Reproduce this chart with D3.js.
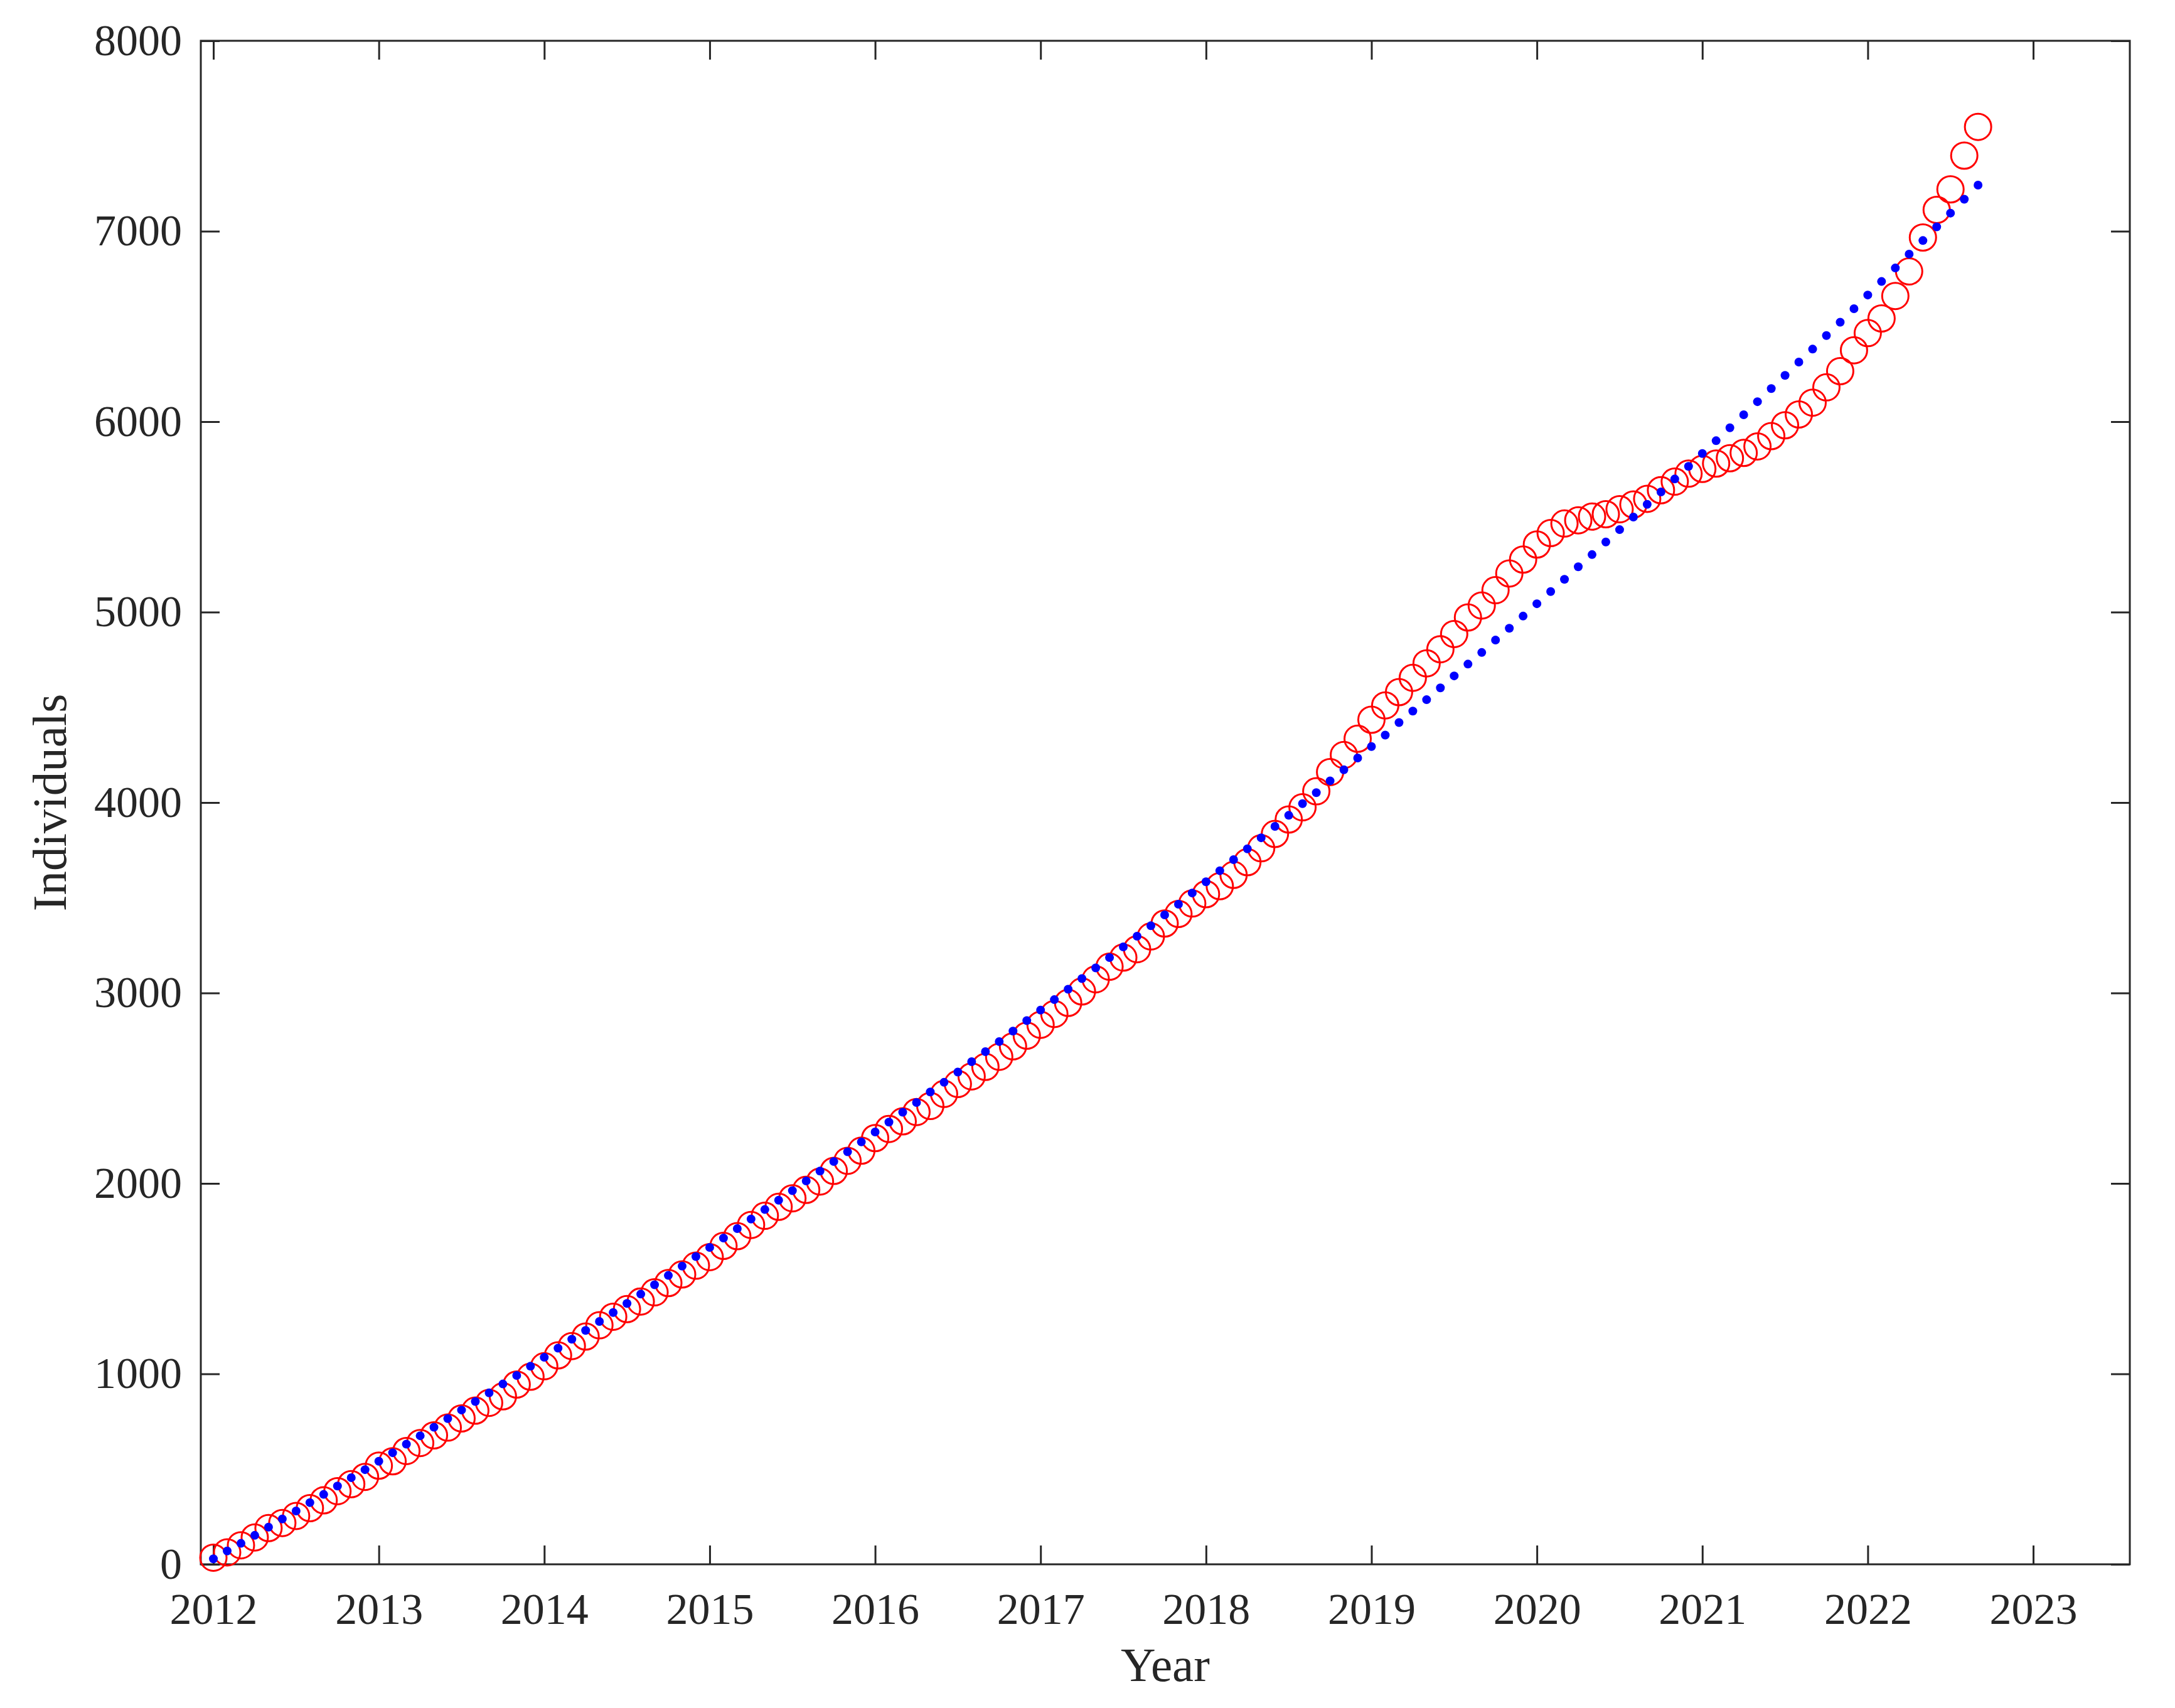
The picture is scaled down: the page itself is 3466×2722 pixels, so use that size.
<!DOCTYPE html>
<html><head><meta charset="utf-8">
<script src="https://cdn.jsdelivr.net/npm/d3@7"></script>
<style>body{margin:0;background:#fff} svg{display:block}</style>
</head><body>
<svg id="c" width="3466" height="2722"></svg>
<script>
// Monthly series starting January 2012
const startYear = 2012;
const observed = [35,63,100,141,190,217,254,295,336,384,421,459,
  518,541,595,637,677,718,766,807,848,882,944,985,
  1040,1097,1146,1196,1255,1300,1340,1380,1428,1477,1522,1568,
  1613,1672,1723,1782,1830,1877,1922,1966,2010,2066,2119,2172,
  2238,2286,2326,2375,2407,2470,2522,2562,2612,2665,2720,2776,
  2833,2890,2948,3008,3072,3138,3186,3230,3297,3365,3415,3470,
  3519,3561,3620,3687,3760,3835,3911,3975,4059,4160,4250,4335,
  4435,4510,4580,4655,4731,4805,4885,4972,5035,5115,5203,5276,
  5355,5415,5465,5482,5502,5514,5540,5565,5595,5640,5685,5727,
  5752,5780,5808,5836,5870,5924,5981,6038,6100,6180,6265,6375,
  6465,6542,6660,6789,6967,7112,7220,7397,7548];
const fitted = [29,70,110,152,195,238,280,324,367,411,455,497,
  541,586,631,675,720,765,810,855,900,947,992,1040,
  1087,1135,1182,1228,1275,1322,1370,1419,1468,1517,1566,1616,
  1664,1713,1763,1813,1863,1912,1962,2013,2065,2115,2166,2218,
  2270,2322,2374,2425,2480,2531,2585,2639,2692,2745,2800,2855,
  2910,2965,3020,3076,3132,3186,3242,3298,3353,3410,3466,3525,
  3584,3642,3700,3757,3815,3875,3933,3994,4052,4114,4172,4234,
  4294,4354,4420,4480,4540,4602,4665,4727,4788,4853,4915,4979,
  5044,5108,5172,5238,5302,5368,5433,5499,5566,5631,5699,5765,
  5833,5900,5968,6036,6105,6174,6243,6313,6381,6452,6522,6593,
  6665,6736,6807,6880,6951,7023,7095,7168,7242];
const xTicks = [2012,2013,2014,2015,2016,2017,2018,2019,2020,2021,2022,2023];
const yTicks = [0,1000,2000,3000,4000,5000,6000,7000,8000];
const xLabel = "Year";
const yLabel = "Individuals";

const svg = d3.select("#c");
const ink = "#262626";
const font = "'Liberation Serif', 'DejaVu Serif', serif";
const box = {left:320, right:3394, top:65, bottom:2493};

const x = d3.scaleLinear().domain([2011.924, 2023.584]).range([box.left, box.right]);
const y = d3.scaleLinear().domain([0, 8000]).range([box.bottom, box.top]);
const t = i => startYear + i / 12;

const tick = 30;
function styleAxis(g, labels) {
  g.select(".domain").remove();
  g.selectAll(".tick line").attr("stroke", ink).attr("stroke-width", 3);
  if (labels) g.selectAll(".tick text").attr("fill", ink).attr("font-family", font).attr("font-size", 70);
  else g.selectAll(".tick text").remove();
}

svg.append("g").attr("transform", `translate(0,${box.bottom})`)
  .call(d3.axisBottom(x).tickValues(xTicks).tickFormat(d3.format("d")).tickSize(-tick).tickPadding(45))
  .call(g => styleAxis(g, true));
svg.append("g").attr("transform", `translate(0,${box.top})`)
  .call(d3.axisTop(x).tickValues(xTicks).tickSize(-tick))
  .call(g => styleAxis(g, false));
svg.append("g").attr("transform", `translate(${box.left},0)`)
  .call(d3.axisLeft(y).tickValues(yTicks).tickFormat(d3.format("d")).tickSize(-tick).tickPadding(30))
  .call(g => styleAxis(g, true));
svg.append("g").attr("transform", `translate(${box.right},0)`)
  .call(d3.axisRight(y).tickValues(yTicks).tickSize(-tick))
  .call(g => styleAxis(g, false));

svg.append("rect").attr("x", box.left).attr("y", box.top)
  .attr("width", box.right - box.left).attr("height", box.bottom - box.top)
  .attr("fill", "none").attr("stroke", ink).attr("stroke-width", 3);

svg.append("g").selectAll("circle").data(observed).join("circle")
  .attr("cx", (d, i) => x(t(i))).attr("cy", d => y(d)).attr("r", 21)
  .attr("fill", "none").attr("stroke", "#ff0000").attr("stroke-width", 3);

svg.append("g").selectAll("circle").data(fitted).join("circle")
  .attr("cx", (d, i) => x(t(i))).attr("cy", d => y(d)).attr("r", 7)
  .attr("fill", "#0000ff");

svg.append("text").attr("x", (box.left + box.right) / 2).attr("y", 2679)
  .attr("text-anchor", "middle").attr("fill", ink).attr("font-family", font)
  .attr("font-size", 77).text(xLabel);
svg.append("text").attr("transform", `translate(105,${(box.top + box.bottom) / 2}) rotate(-90)`)
  .attr("text-anchor", "middle").attr("fill", ink).attr("font-family", font)
  .attr("font-size", 77).text(yLabel);
</script>
</body></html>
